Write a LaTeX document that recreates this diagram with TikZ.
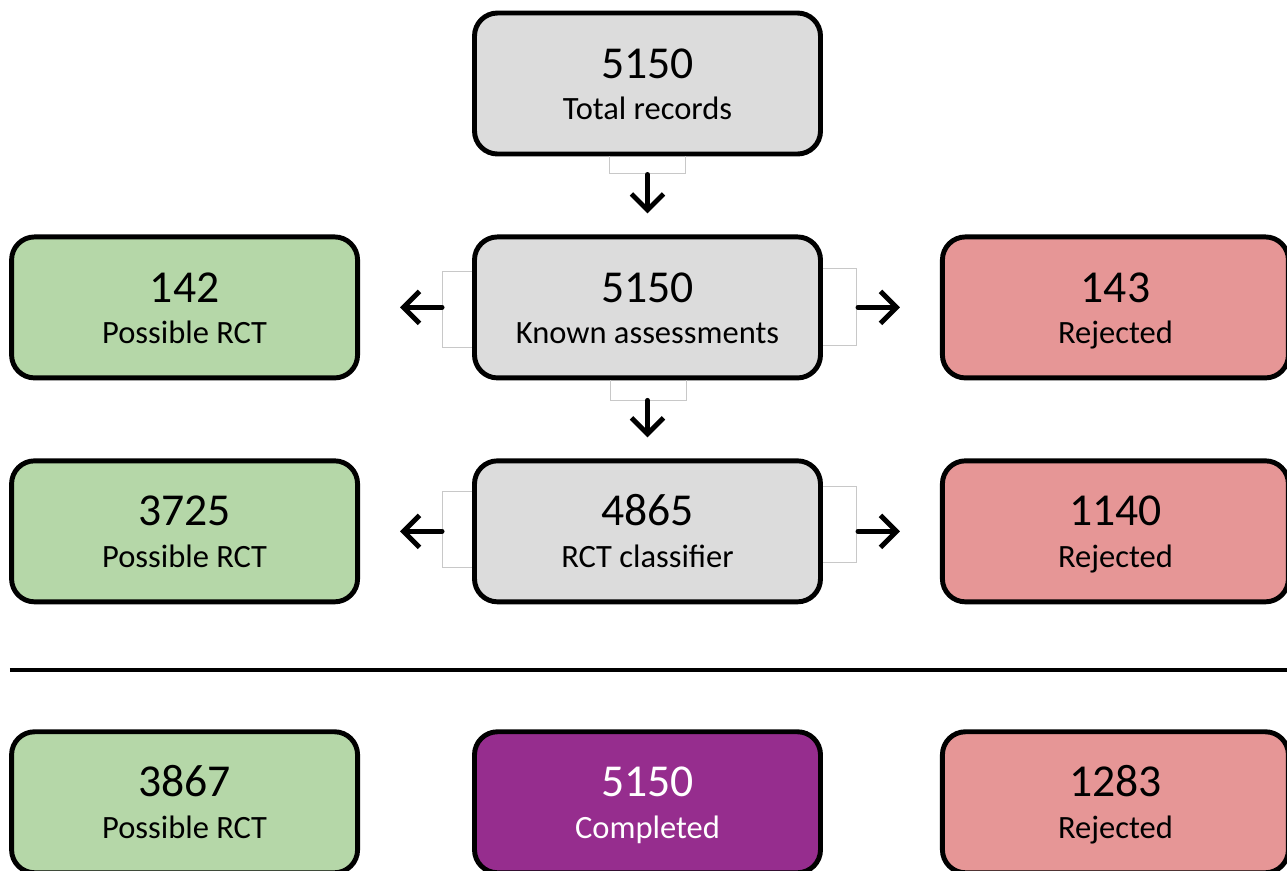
\documentclass[tikz,border=0pt]{standalone}
\usepackage{fontspec}
\setmainfont{Carlito}
\usepackage{xcolor}
\usepackage{tikz}
\usetikzlibrary{arrows.meta, positioning}

\definecolor{boxgrey}{RGB}{220,220,220}
\definecolor{boxgreen}{RGB}{181,215,168}
\definecolor{boxred}{RGB}{230,150,150}
\definecolor{boxpurple}{RGB}{150,45,142}
\definecolor{stubgrey}{RGB}{200,200,200}

\newcommand{\countfont}{\fontsize{26}{30}\selectfont}
\newcommand{\labelfont}{\fontsize{18.5}{23}\selectfont}
\newcommand{\boxtext}[2]{{\countfont\rule{0pt}{0.72cm}#1}\\[0.33cm]{\labelfont\vphantom{Kpj}#2}}

\begin{document}
\begin{tikzpicture}[
          box/.style={rectangle, rounded corners=0.46cm, draw, line width=2.8pt,
            minimum width=6.92cm, minimum height=2.82cm, align=center, inner sep=0pt},
          greybox/.style={box, fill=boxgrey},
          greenbox/.style={box, fill=boxgreen},
          redbox/.style={box, fill=boxred},
          purplebox/.style={box, fill=boxpurple, text=white},
          flow/.style={line width=2.8pt, line cap=round, -{Straight Barb[length=3.2mm, width=6.4mm]}},
          stub/.style={draw=stubgrey, line width=0.6pt}
        ]
          \useasboundingbox (0,0) rectangle (25.74,-17.4);

          % top and middle column
          \node[greybox] (total) at (12.95,-1.67) {\boxtext{5150}{Total records}};
          \node[greybox, below=1.56cm of total] (known) {\boxtext{5150}{Known assessments}};
          \node[greybox, below=1.56cm of known] (classifier) {\boxtext{4865}{RCT classifier}};

          % side boxes
          \node[greenbox, left=2.24cm of known] (rct1) {\boxtext{142}{Possible RCT}};
          \node[redbox, right=2.34cm of known] (rej1) {\boxtext{143}{Rejected}};
          \node[greenbox, left=2.24cm of classifier] (rct2) {\boxtext{3725}{Possible RCT}};
          \node[redbox, right=2.34cm of classifier] (rej2) {\boxtext{1140}{Rejected}};

          % totals
          \node[purplebox, below=2.5cm of classifier] (done) {\boxtext{5150}{Completed}};
          \node[greenbox, left=2.24cm of done] (rcttotal) {\boxtext{3867}{Possible RCT}};
          \node[redbox, right=2.34cm of done] (rejtotal) {\boxtext{1283}{Rejected}};

          \draw[line width=2.8pt] (0.2,-13.4) -- (25.74,-13.4);

          % stubs
          \draw[stub] ([xshift=-0.76cm]total.south) -- ++(0,-0.34) -- ++(1.52,0) -- ++(0,0.34);
          \draw[stub] ([xshift=-0.74cm]known.south) -- ++(0,-0.4) -- ++(1.52,0) -- ++(0,0.4);
          \draw[stub] ([yshift=0.72cm]known.west) -- ++(-0.6,0) -- ++(0,-1.52) -- ++(0.6,0);
          \draw[stub] ([yshift=0.78cm]known.east) -- ++(0.68,0) -- ++(0,-1.54) -- ++(-0.68,0);
          \draw[stub] ([yshift=0.8cm]classifier.west) -- ++(-0.6,0) -- ++(0,-1.52) -- ++(0.6,0);
          \draw[stub] ([yshift=0.9cm]classifier.east) -- ++(0.68,0) -- ++(0,-1.52) -- ++(-0.68,0);

          % arrows
          \draw[flow, shorten <=0.36cm, shorten >=0.42cm] (total) -- (known);
          \draw[flow, shorten <=0.4cm, shorten >=0.42cm] (known) -- (classifier);
          \draw[flow, shorten <=0.6cm, shorten >=0.8cm] (known) -- (rct1);
          \draw[flow, shorten <=0.7cm, shorten >=0.8cm] (known) -- (rej1);
          \draw[flow, shorten <=0.6cm, shorten >=0.8cm] (classifier) -- (rct2);
          \draw[flow, shorten <=0.7cm, shorten >=0.8cm] (classifier) -- (rej2);
        \end{tikzpicture}
\end{document}
